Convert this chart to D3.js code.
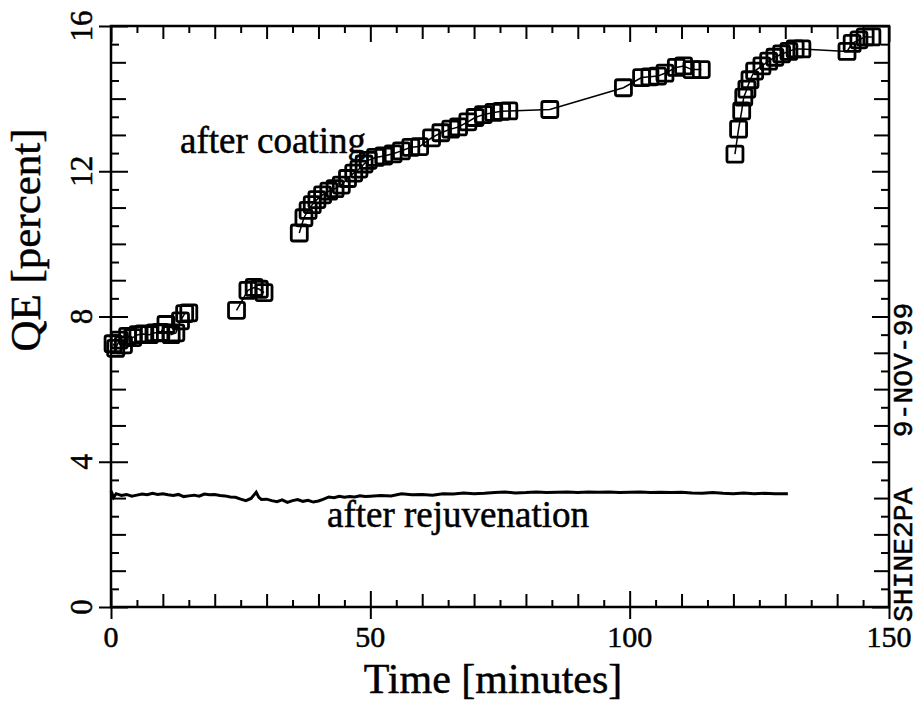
<!DOCTYPE html>
<html>
<head>
<meta charset="utf-8">
<script src="https://cdn.jsdelivr.net/npm/d3@7/dist/d3.min.js"></script>
<style>
  body { margin: 0; background: #fff; }
  text { fill: #000; stroke: #000; stroke-width: 0.5px; }
</style>
</head>
<body>
<div id="my_dataviz"></div>
<script>
// QE after coating (squares); run = uninterrupted measurement block
const coatTime = [0.4, 0.9, 1.6, 2.4, 3.2, 4.2, 5.2, 6.3, 7.4, 8.5, 9.6, 10.6, 11.6, 12.5, 13.4, 14.2, 15.0,
                  24.2, 26.4, 27.6, 28.6, 29.5,
                  36.3, 37.2, 38.0, 38.8, 39.7, 40.8, 42.0, 43.2, 44.4, 45.6, 46.8, 47.8, 48.8, 49.6, 51.0, 52.6,
                  54.4, 56.0, 57.8, 59.5, 61.8, 63.6, 65.5, 67.0, 68.8, 70.2, 71.8, 73.8, 75.3, 76.7, 84.6,
                  98.8, 102.3, 103.9, 105.4, 106.8, 109.0, 110.4, 112.0, 113.8,
                  120.3, 121.0, 121.6, 122.0, 122.6, 123.2, 124.1, 125.5, 126.8, 128.0, 129.3, 130.7, 131.9, 133.2,
                  141.9, 142.9, 144.2, 145.4, 146.7];
const coatQE   = [7.25, 7.12, 7.35, 7.22, 7.45, 7.42, 7.50, 7.52, 7.50, 7.55, 7.56, 7.78, 7.50, 7.55, 7.88, 8.08, 8.10,
                  8.17, 8.72, 8.80, 8.75, 8.66,
                  10.30, 10.72, 10.92, 11.08, 11.22, 11.35, 11.45, 11.52, 11.62, 11.80, 11.95, 12.06, 12.20, 12.30, 12.38, 12.42,
                  12.48, 12.56, 12.66, 12.68, 12.92, 13.06, 13.16, 13.22, 13.36, 13.48, 13.56, 13.62, 13.65, 13.66, 13.70,
                  14.30, 14.58, 14.60, 14.62, 14.70, 14.86, 14.90, 14.80, 14.80,
                  12.47, 13.16, 13.66, 14.04, 14.26, 14.52, 14.76, 14.90, 15.03, 15.14, 15.23, 15.30, 15.37, 15.37,
                  15.30, 15.52, 15.62, 15.70, 15.70];
const coatRun  = [1, 1, 1, 1, 1, 1, 1, 1, 1, 1, 1, 1, 1, 1, 1, 1, 1,
                  2, 2, 2, 2, 2,
                  3, 3, 3, 3, 3, 3, 3, 3, 3, 3, 3, 3, 3, 3, 3, 3,
                  3, 3, 3, 3, 3, 3, 3, 3, 3, 3, 3, 3, 3, 3, 3,
                  3, 3, 3, 3, 3, 3, 3, 3, 3,
                  4, 4, 4, 4, 4, 4, 4, 4, 4, 4, 4, 4, 4, 4,
                  4, 4, 4, 4, 4];

// QE after rejuvenation (continuous trace)
const rejTime = [0, 0.5, 1, 2, 3, 4, 5, 6, 7, 8, 9, 10, 11, 12, 13, 14, 15, 16, 17, 18, 19, 20,
                 21, 22, 23, 24, 25, 26, 27, 28, 28.5, 29, 30, 31, 32, 33, 34, 35, 36, 37, 38, 39, 40,
                 41, 42, 43, 44, 45, 46, 47, 48, 49, 50, 52, 54, 56, 58, 60, 62, 64, 66, 68, 70,
                 72, 74, 76, 78, 80, 82, 84, 86, 88, 90, 92, 94, 96, 98, 100, 102, 104, 106, 108, 110,
                 112, 114, 116, 118, 120, 122, 124, 126, 128, 130.5];
const rejQE   = [3.20, 3.02, 3.12, 3.07, 3.10, 3.05, 3.08, 3.11, 3.09, 3.13, 3.10, 3.12, 3.09, 3.07, 3.10, 3.04, 3.06, 3.08, 3.05, 3.11, 3.09, 3.10,
                 3.07, 3.06, 3.03, 3.02, 2.97, 2.93, 2.99, 3.16, 3.02, 2.96, 2.97, 2.93, 2.90, 2.95, 2.88, 2.93, 2.96, 2.91, 2.94, 2.89, 2.92,
                 2.97, 3.03, 3.01, 3.05, 3.02, 3.04, 3.03, 3.06, 3.04, 3.05, 3.07, 3.06, 3.12, 3.09, 3.10, 3.08, 3.12, 3.11, 3.14, 3.12,
                 3.13, 3.15, 3.17, 3.14, 3.15, 3.17, 3.15, 3.16, 3.17, 3.15, 3.17, 3.16, 3.17, 3.15, 3.16, 3.17, 3.15, 3.16, 3.15, 3.16,
                 3.14, 3.13, 3.15, 3.13, 3.12, 3.14, 3.12, 3.13, 3.12, 3.12];

const xMajor = [0, 50, 100, 150];
const yMajor = [0, 4, 8, 12, 16];

const margin = { top: 26, right: 31, bottom: 96, left: 111 },
      width = 920 - margin.left - margin.right,
      height = 703 - margin.top - margin.bottom;

const svg = d3.select("#my_dataviz").append("svg")
    .attr("width", 920)
    .attr("height", 703)
  .append("g")
    .attr("transform", `translate(${margin.left},${margin.top})`);

const xScale = d3.scaleLinear().domain([0, 150]).range([0, width]);
const yScale = d3.scaleLinear().domain([0, 16]).range([height, 0]);

const serif = "'Liberation Serif', 'Times New Roman', serif";

// tick helper: draws a set of tick marks with one length, no domain line
function ticks(axisFn, scale, values, size, transform) {
    svg.append("g")
        .attr("transform", transform)
        .call(axisFn(scale).tickValues(values).tickSize(size).tickFormat(""))
        .call(g => g.select(".domain").remove())
        .selectAll("line")
        .attr("stroke", "#000")
        .attr("stroke-width", 2);
}

const x5 = d3.range(5, 150, 10);
const x10 = d3.range(10, 150, 10).filter(v => v % 50 !== 0);
const yHalf = d3.range(0.5, 16, 1);
const yInt = d3.range(1, 16, 1).filter(v => v % 4 !== 0);

// bottom
ticks(d3.axisBottom, xScale, x5, -7, `translate(0,${height})`);
ticks(d3.axisBottom, xScale, x10, -13, `translate(0,${height})`);
ticks(d3.axisBottom, xScale, xMajor, -16, `translate(0,${height})`);
ticks(d3.axisBottom, xScale, xMajor, 12, `translate(0,${height})`);
// top
ticks(d3.axisTop, xScale, x5, -7, "translate(0,0)");
ticks(d3.axisTop, xScale, x10, -13, "translate(0,0)");
ticks(d3.axisTop, xScale, xMajor, -16, "translate(0,0)");
// left
ticks(d3.axisLeft, yScale, yHalf, -8, "translate(0,0)");
ticks(d3.axisLeft, yScale, yInt, -15, "translate(0,0)");
ticks(d3.axisLeft, yScale, yMajor, -17, "translate(0,0)");
ticks(d3.axisLeft, yScale, yMajor, 12, "translate(0,0)");
// right
ticks(d3.axisRight, yScale, yHalf, -8, `translate(${width},0)`);
ticks(d3.axisRight, yScale, yInt, -15, `translate(${width},0)`);
ticks(d3.axisRight, yScale, yMajor, -17, `translate(${width},0)`);

// frame
svg.append("rect")
    .attr("width", width)
    .attr("height", height)
    .attr("fill", "none")
    .attr("stroke", "#000")
    .attr("stroke-width", 2.5);

// tick labels
svg.selectAll(".xlab")
    .data(xMajor)
    .enter().append("text")
    .attr("x", d => xScale(d))
    .attr("y", height + 40)
    .attr("text-anchor", "middle")
    .style("font-family", serif)
    .style("font-size", "30px")
    .text(d => d);

svg.selectAll(".ylab")
    .data(yMajor)
    .enter().append("text")
    .attr("transform", d => `translate(-19,${yScale(d)}) rotate(-90)`)
    .attr("text-anchor", "middle")
    .style("font-family", serif)
    .style("font-size", "31px")
    .text(d => d);

// axis titles
svg.append("text")
    .attr("x", 382)
    .attr("y", height + 86)
    .attr("text-anchor", "middle")
    .style("font-family", serif)
    .style("font-size", "42px")
    .text("Time [minutes]");

svg.append("text")
    .attr("transform", `translate(-71,${240 - margin.top}) rotate(-90)`)
    .attr("text-anchor", "middle")
    .style("font-family", serif)
    .style("font-size", "43px")
    .text("QE [percent]");

// rejuvenation trace
const rejData = rejTime.map((t, i) => ({ t, v: rejQE[i] }));
const line = d3.line()
    .x(d => xScale(d.t))
    .y(d => yScale(d.v));

svg.append("path")
    .datum(rejData)
    .attr("d", line)
    .attr("fill", "none")
    .attr("stroke", "#000")
    .attr("stroke-width", 3);

// coating runs: thin connecting line + open squares
const coatData = coatTime.map((t, i) => ({ t, v: coatQE[i], run: coatRun[i] }));
const runs = d3.groups(coatData, d => d.run);

svg.selectAll(".run")
    .data(runs)
    .enter().append("path")
    .attr("class", "run")
    .attr("d", d => line(d[1]))
    .attr("fill", "none")
    .attr("stroke", "#000")
    .attr("stroke-width", 1.5);

const sq = 16;
svg.selectAll(".sq")
    .data(coatData)
    .enter().append("rect")
    .attr("class", "sq")
    .attr("x", d => xScale(d.t) - sq / 2)
    .attr("y", d => yScale(d.v) - sq / 2)
    .attr("width", sq)
    .attr("height", sq)
    .attr("rx", 2)
    .attr("fill", "none")
    .attr("stroke", "#000")
    .attr("stroke-width", 2.8);

// annotations
svg.append("text")
    .attr("x", 69)
    .attr("y", 127)
    .style("font-family", serif)
    .style("font-size", "37px")
    .text("after coating");

svg.append("text")
    .attr("x", 216)
    .attr("y", 501)
    .style("font-family", serif)
    .style("font-size", "37px")
    .text("after rejuvenation");

// stamp on the right edge
svg.append("text")
    .attr("transform", `translate(${width + 23},${596}) rotate(-90)`)
    .style("font-family", "'Liberation Mono', 'Courier New', monospace")
    .style("font-size", "28px")
    .style("white-space", "pre")
    .attr("xml:space", "preserve")
    .text("SHINE2PA   9-NOV-99");
</script>
</body>
</html>
